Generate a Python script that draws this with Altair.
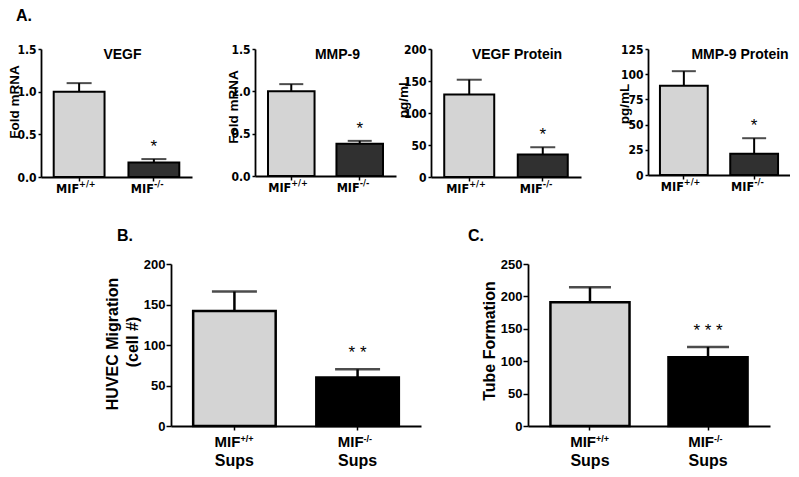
import altair as alt
import pandas as pd

groups = ["MIF+/+", "MIF-/-"]
label_main = ["MIF", "MIF"]
label_sup = ["+/+", "-/-"]
label_sups = ["Sups", "Sups"]

# Panel A values (mean, SEM)
vegf_mrna_mean = [1.00, 0.17]
vegf_mrna_sem = [0.10, 0.04]
mmp9_mrna_mean = [1.00, 0.38]
mmp9_mrna_sem = [0.085, 0.035]
vegf_prot_mean = [129, 35]
vegf_prot_sem = [23, 11.5]
mmp9_prot_mean = [88.5, 21]
mmp9_prot_sem = [14.5, 15.5]
# Panel B
migration_mean = [142, 60]
migration_sem = [24, 10]
# Panel C
tube_mean = [191, 106]
tube_sem = [23, 16]

stars_a = ["", "*"]
stars_b = ["", "* *"]
stars_c = ["", "* * *"]

ticks_mrna = [0.0, 0.5, 1.0, 1.5]
ticks_vegf_prot = [0, 50, 100, 150, 200]
ticks_mmp9_prot = [0, 25, 50, 75, 100, 125]
ticks_mig = [0, 50, 100, 150, 200]
ticks_tube = [0, 50, 100, 150, 200, 250]

WT_FILL = "#d4d4d4"
NARROW = "Liberation Sans Narrow, Arial Narrow, DejaVu Sans Condensed, sans-serif"
SANS = "Liberation Sans, Arial, sans-serif"


def panel(mean, sem, stars, ticks, fmt, ytitles, w, h, pi, po, ko_color,
          big=False, cap=25, title_params=None):
    """ytitles: list of (text, x_offset_from_axis, y_from_plot_top)."""
    df = pd.DataFrame({
        "group": groups,
        "mean": mean,
        "top": [m + s for m, s in zip(mean, sem)],
        "star": stars,
        "main": label_main,
        "sup": label_sup,
        "sups": label_sups,
        "fill": [WT_FILL, ko_color],
    })
    base = alt.Chart(df)
    if big:
        lab_font, lab_size, tsize, lpad, tfs, sw = SANS, 13, 5, 1, 16, 2.5
    else:
        lab_font, lab_size, tsize, lpad, tfs, sw = NARROW, 12, 3, 2, 13.5, 2
    xenc = alt.X("group:N", sort=groups,
                 scale=alt.Scale(paddingInner=pi, paddingOuter=po),
                 axis=alt.Axis(title=None, labels=False, ticks=True, tickSize=4,
                               tickColor="black", tickWidth=1.5,
                               domainColor="black", domainWidth=1.8))
    yscale = alt.Scale(domain=[ticks[0], ticks[-1]], nice=False)
    yaxis = alt.Axis(values=ticks, format=fmt, title=None, grid=False,
                     labelFont=lab_font, labelFontWeight="bold", labelFontSize=lab_size,
                     labelColor="black", labelPadding=lpad,
                     tickSize=tsize, tickColor="black", tickWidth=1.5,
                     domainColor="black", domainWidth=1.8)
    bars = base.mark_bar(stroke="black", strokeWidth=sw).encode(
        x=xenc,
        y=alt.Y("mean:Q", scale=yscale, axis=yaxis),
        color=alt.Color("fill:N", scale=None, legend=None),
    )
    err = base.mark_rule(color="black", strokeWidth=sw).encode(
        x=xenc, y=alt.Y("mean:Q", scale=yscale, axis=yaxis), y2="top:Q")
    capm = base.mark_tick(color="black", thickness=sw, size=cap).encode(
        x=xenc, y=alt.Y("top:Q", scale=yscale, axis=yaxis))
    star = base.mark_text(font=SANS, fontSize=17, baseline="alphabetic",
                          dy=-11 if big else -7, color="black").encode(
        x=xenc, y=alt.Y("top:Q", scale=yscale, axis=yaxis), text="star:N")
    if big:
        lab1 = base.mark_text(align="right", baseline="top", font=SANS, fontWeight="bold",
                              fontSize=15, dx=6, color="black").encode(
            x=xenc, y=alt.value(h + 9), text="main:N")
        lab2 = base.mark_text(align="left", baseline="top", font=SANS, fontWeight="bold",
                              fontSize=9, dx=6, color="black").encode(
            x=xenc, y=alt.value(h + 9), text="sup:N")
        lab3 = base.mark_text(align="center", baseline="top", font=SANS, fontWeight="bold",
                              fontSize=16, color="black").encode(
            x=xenc, y=alt.value(h + 27), text="sups:N")
        layers = [bars, err, capm, star, lab1, lab2, lab3]
    else:
        lab1 = base.mark_text(align="right", baseline="top", font=NARROW, fontWeight="bold",
                              fontSize=12.5, dx=0, color="black").encode(
            x=xenc, y=alt.value(h + 6), text="main:N")
        lab2 = base.mark_text(align="left", baseline="top", font=NARROW, fontWeight="bold",
                              fontSize=9, dx=0, color="black").encode(
            x=xenc, y=alt.value(h + 3), text="sup:N")
        layers = [bars, err, capm, star, lab1, lab2]
    for text, tx, ty in ytitles:
        layers.append(
            alt.Chart(pd.DataFrame({"t": [text]})).mark_text(
                angle=270, align="center", baseline="middle", font=SANS, fontWeight="bold",
                fontSize=tfs, color="black").encode(
                x=alt.value(tx), y=alt.value(ty), text="t:N"))
    return alt.layer(*layers).properties(width=w, height=h, title=title_params)


def top_title(text, dx):
    return alt.TitleParams(text=text, anchor="middle", frame="group", offset=-19, dx=dx,
                           font=SANS, fontSize=14, fontWeight="bold", color="black")


p1 = panel(vegf_mrna_mean, vegf_mrna_sem, stars_a, ticks_mrna, ".1f", [("Fold mRNA", -26, 53)],
           151, 128, 0.32, 0.17, "#303030", cap=25, title_params=top_title("VEGF", 6))
p2 = panel(mmp9_mrna_mean, mmp9_mrna_sem, stars_a, ticks_mrna, ".1f", [("Fold mRNA", -21, 58)],
           141, 127, 0.32, 0.19, "#303030", cap=24, title_params=top_title("MMP-9", 12))
p3 = panel(vegf_prot_mean, vegf_prot_sem, stars_a, ticks_vegf_prot, "d", [("pg/mL", -27, 49)],
           150, 128, 0.32, 0.18, "#303030", cap=25, title_params=top_title("VEGF Protein", 11))
p4 = panel(mmp9_prot_mean, mmp9_prot_sem, stars_a, ticks_mmp9_prot, "d", [("pg/mL", -23, 55)],
           142, 126, 0.32, 0.17, "#303030", cap=24, title_params=top_title("MMP-9 Protein", 21))

pB = panel(migration_mean, migration_sem, stars_b, ticks_mig, "d",
           [("HUVEC Migration", -58, 80), ("(cell #)", -38, 78)], 250, 162, 0.33, 0.18,
           "#000000", big=True, cap=45,
           title_params=alt.TitleParams(text="B.", anchor="start", frame="bounds", dx=12,
                                        offset=14, font=SANS, fontSize=16, fontWeight="bold",
                                        color="black"))
pC = panel(tube_mean, tube_sem, stars_c, ticks_tube, "d", [("Tube Formation", -38, 77)],
           242, 162, 0.33, 0.19, "#000000", big=True, cap=42,
           title_params=alt.TitleParams(text="C.", anchor="start", frame="bounds", dx=-14,
                                        offset=14, font=SANS, fontSize=16, fontWeight="bold",
                                        color="black"))

spacer = alt.Chart(pd.DataFrame({"s": [0]})).mark_point(opacity=0).properties(width=64, height=10)

top_row = alt.hconcat(
    alt.hconcat(alt.hconcat(p1, p2, spacing=35), p3, spacing=1), p4, spacing=37,
    title=alt.TitleParams(text="A.", anchor="start", frame="bounds", dx=8, offset=19,
                          font=SANS, fontSize=16, fontWeight="bold", color="black"),
)
bottom_row = alt.hconcat(spacer, alt.hconcat(pB, pC, spacing=47), spacing=0)

chart = alt.vconcat(top_row, bottom_row, spacing=32).properties(padding=0).configure_view(
    stroke=None
).configure_axis(grid=False)

chart.save("out.html", embed_options={"renderer": "svg", "actions": False})
